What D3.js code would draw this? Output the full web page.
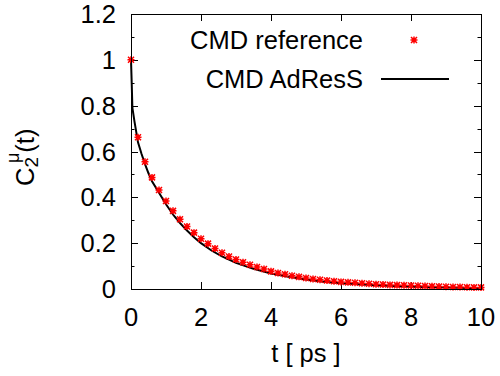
<!DOCTYPE html>
<html>
<head>
<meta charset="utf-8">
<script src="https://cdn.jsdelivr.net/npm/d3@7"></script>
<style>
	body { margin: 0; background: #fff; }
	text { font-family: "Liberation Sans", Arial, sans-serif; fill: #000; }
</style>
</head>
<body>
<div id="chart"></div>
<script>
'use strict';

//Reference data (CMD reference), one point every 0.2 ps
var refTimes = [0, 0.2, 0.4, 0.6, 0.8, 1.0, 1.2, 1.4, 1.6, 1.8, 2.0, 2.2, 2.4, 2.6, 2.8, 3.0, 3.2, 3.4, 3.6, 3.8,
	4.0, 4.2, 4.4, 4.6, 4.8, 5.0, 5.2, 5.4, 5.6, 5.8, 6.0, 6.2, 6.4, 6.6, 6.8, 7.0, 7.2, 7.4, 7.6, 7.8,
	8.0, 8.2, 8.4, 8.6, 8.8, 9.0, 9.2, 9.4, 9.6, 9.8, 10.0];
var refValues = [1.0, 0.662, 0.555, 0.487, 0.432, 0.384, 0.341, 0.304, 0.273, 0.246, 0.219, 0.198, 0.177, 0.158, 0.142, 0.129, 0.117, 0.106, 0.096, 0.087,
	0.077, 0.070, 0.064, 0.058, 0.053, 0.048, 0.044, 0.040, 0.037, 0.034, 0.031, 0.029, 0.027, 0.025, 0.023, 0.021, 0.020, 0.018, 0.017, 0.016,
	0.015, 0.014, 0.013, 0.012, 0.011, 0.010, 0.009, 0.009, 0.008, 0.007, 0.007];

//AdResS curve
var adressTimes = [0, 0.02, 0.04, 0.1, 0.2, 0.3, 0.4, 0.5, 0.6, 0.8, 1.0, 1.2, 1.4, 1.6, 1.8, 2.0, 2.3, 2.6, 3.0, 3.5,
	4.0, 4.5, 5.0, 5.5, 6.0, 7.0, 8.0, 9.0, 10.0];
var adressValues = [1.0, 0.90, 0.79, 0.73, 0.64, 0.59, 0.545, 0.505, 0.47, 0.42, 0.37, 0.325, 0.288, 0.255, 0.226, 0.200, 0.168, 0.142, 0.114, 0.088,
	0.068, 0.053, 0.041, 0.032, 0.025, 0.016, 0.010, 0.006, 0.003];

var xTicks = [0, 2, 4, 6, 8, 10];
var xTickLabels = ["0", "2", "4", "6", "8", "10"];
var yTicks = [0, 0.2, 0.4, 0.6, 0.8, 1.0, 1.2];
var yTickLabels = ["0", "0.2", "0.4", "0.6", "0.8", "1", "1.2"];
var yMinorTicks = [0.1, 0.3, 0.5, 0.7, 0.9, 1.1];

var seriesNames = ["CMD reference", "CMD AdResS"];

var width = 500, height = 376;
var plot = { left: 131, right: 481, top: 14, bottom: 289 };

var svg = d3.select("#chart").append("svg")
	.attr("width", width)
	.attr("height", height);

var x = d3.scaleLinear().domain([0, 10]).range([plot.left, plot.right]);
var y = d3.scaleLinear().domain([0, 1.2]).range([plot.bottom, plot.top]);

var fontSize = 25.5;

//Ticks (inward, mirrored on all sides)
var majorLen = 7, minorLen = 3.5;
var tickGroup = svg.append("g").attr("stroke", "#000").attr("stroke-width", 1);

xTicks.slice(1, -1).forEach(function(t) {
	var px = Math.round(x(t)) + 0.5;
	tickGroup.append("line").attr("x1", px).attr("x2", px).attr("y1", plot.bottom).attr("y2", plot.bottom - majorLen);
	tickGroup.append("line").attr("x1", px).attr("x2", px).attr("y1", plot.top).attr("y2", plot.top + majorLen);
});

yTicks.slice(1, -1).forEach(function(v) {
	var py = Math.round(y(v)) + 0.5;
	tickGroup.append("line").attr("x1", plot.left).attr("x2", plot.left + majorLen).attr("y1", py).attr("y2", py);
	tickGroup.append("line").attr("x1", plot.right).attr("x2", plot.right - majorLen).attr("y1", py).attr("y2", py);
});

yMinorTicks.forEach(function(v) {
	var py = Math.round(y(v)) + 0.5;
	tickGroup.append("line").attr("x1", plot.left).attr("x2", plot.left + minorLen).attr("y1", py).attr("y2", py);
	tickGroup.append("line").attr("x1", plot.right).attr("x2", plot.right - minorLen).attr("y1", py).attr("y2", py);
});

//Tick labels
svg.append("g").selectAll("text")
	.data(xTicks)
	.enter().append("text")
	.attr("x", function(d) { return x(d); })
	.attr("y", 326)
	.attr("text-anchor", "middle")
	.style("font-size", fontSize + "px")
	.text(function(d, i) { return xTickLabels[i]; });

svg.append("g").selectAll("text")
	.data(yTicks)
	.enter().append("text")
	.attr("x", 116)
	.attr("y", function(d) { return y(d) + 9; })
	.attr("text-anchor", "end")
	.style("font-size", fontSize + "px")
	.text(function(d, i) { return yTickLabels[i]; });

//Axis titles
svg.append("text")
	.attr("x", (plot.left + plot.right) / 2)
	.attr("y", 362)
	.attr("text-anchor", "middle")
	.style("font-size", fontSize + "px")
	.text("t [ ps ]");

var yTitle = svg.append("text")
	.attr("transform", "translate(34,186) rotate(-90)")
	.style("font-size", fontSize + "px");
yTitle.append("tspan").text("C");
yTitle.append("tspan").attr("dy", 4).style("font-size", "19px").text("2");
yTitle.append("tspan").attr("dx", -6).attr("dy", -19).style("font-size", "18px").text("\u03bc");
yTitle.append("tspan").attr("dy", 15).text("(t)");

//Curve
var line = d3.line()
	.x(function(d) { return x(d[0]); })
	.y(function(d) { return y(d[1]); });

svg.append("path")
	.datum(d3.zip(adressTimes, adressValues))
	.attr("d", line)
	.attr("fill", "none")
	.attr("stroke", "#000")
	.attr("stroke-width", 2);

//Reference points (asterisk markers)
var star = "M-3.5,0H3.5M0,-3.5V3.5M-3,-3L3,3M-3,3L3,-3";

svg.append("g").selectAll("path")
	.data(d3.zip(refTimes, refValues))
	.enter().append("path")
	.attr("transform", function(d) { return "translate(" + x(d[0]) + "," + y(d[1]) + ")"; })
	.attr("d", star)
	.attr("fill", "none")
	.attr("stroke", "#ff0000")
	.attr("stroke-width", 1.5);

//Frame
svg.append("rect")
	.attr("x", plot.left + 0.5)
	.attr("y", plot.top + 0.5)
	.attr("width", plot.right - plot.left)
	.attr("height", plot.bottom - plot.top)
	.attr("fill", "none")
	.attr("stroke", "#000")
	.attr("stroke-width", 1);

//Legend
var legend = svg.append("g");
legend.append("text")
	.attr("x", 363).attr("y", 49)
	.attr("text-anchor", "end")
	.style("font-size", fontSize + "px")
	.text(seriesNames[0]);
legend.append("path")
	.attr("transform", "translate(414,40)")
	.attr("d", star)
	.attr("fill", "none")
	.attr("stroke", "#ff0000")
	.attr("stroke-width", 1.5);

legend.append("text")
	.attr("x", 363).attr("y", 88)
	.attr("text-anchor", "end")
	.style("font-size", fontSize + "px")
	.text(seriesNames[1]);
legend.append("line")
	.attr("x1", 381).attr("x2", 449)
	.attr("y1", 79).attr("y2", 79)
	.attr("stroke", "#000")
	.attr("stroke-width", 2);
</script>
</body>
</html>
